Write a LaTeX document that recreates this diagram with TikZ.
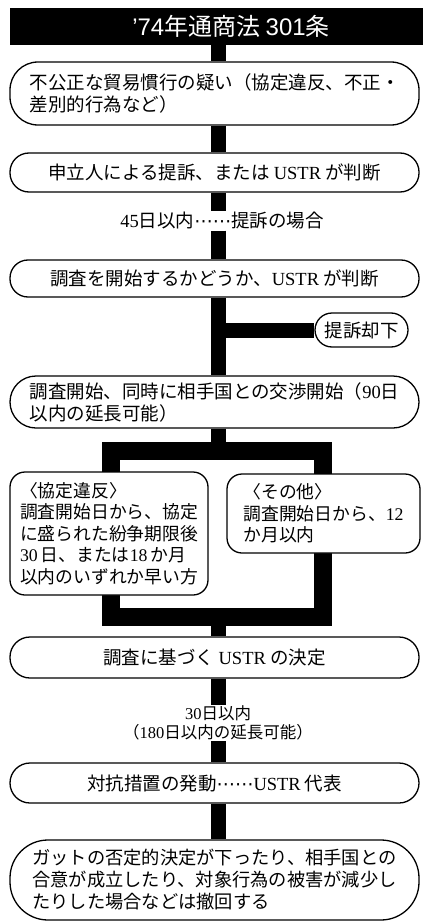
\documentclass[tikz,border=0pt]{standalone}
\usepackage{fontspec}
\setmainfont{Noto Sans CJK JP}
\newfontfamily\lat{Liberation Serif}
\newfontfamily\hel{Liberation Sans}
\newfontfamily\dv{DejaVu Sans}
\newcommand{\mydots}{{\dv ⋯⋯}}
\usetikzlibrary{backgrounds}
\begin{document}
\begin{tikzpicture}[x=1pt,y=-1pt,
  box/.style={draw=black, line width=1.3pt, fill=white, inner sep=0pt, align=left, font=\fontsize{18.5}{22}\selectfont},
  wide/.style={box, minimum width=409pt},
  small/.style={box, font=\fontsize{17.8}{21.5}\selectfont, rounded corners=15pt},
  spinebar/.style={line width=15pt, black},
  framebar/.style={line width=18pt, black},
  lab/.style={fill=white, inner sep=1pt, align=center},
]
\useasboundingbox (0,0) rectangle (423,923);
\coordinate (sx) at (218.5,0);
\coordinate (ftl) at (111,451);
\coordinate (fbr) at (322.5,616.5);

\node[fill=black, minimum width=413pt, minimum height=37pt, inner sep=0pt, text=white,
  font=\fontsize{24}{24}\selectfont] (title) at (216.5,26.5)
  {\hspace*{29pt}{\hel ’74}年通商法 {\hel 301}条};

\node[wide, minimum height=63pt, rounded corners=28pt] (b1) at (214.5,93.5)
  {不公正な貿易慣行の疑い（協定違反、不正・\\差別的行為など）};
\node[wide, minimum height=39pt, rounded corners=19pt] (b2) at (214.5,172.5)
  {申立人による提訴、または {\lat USTR} が判断};
\node[lab, font=\fontsize{18.5}{20}\selectfont] (l1) at (222,221)
  {{\lat 45}日以内\mydots 提訴の場合};
\node[wide, minimum height=37pt, rounded corners=18pt] (b3) at (214.5,278.5)
  {調査を開始するかどうか、{\lat USTR} が判断};
\node[box, minimum width=93pt, minimum height=34pt, rounded corners=17pt] (rej) at (361.5,330)
  {提訴却下};
\node[wide, minimum height=52pt, rounded corners=26pt] (b4) at (214.5,402)
  {調査開始、同時に相手国との交渉開始（{\lat 90}日\\以内の延長可能）};
\node[small, minimum width=198pt, minimum height=123pt] (lb) at (109,533.5)
  {〈協定違反〉\\調査開始日から、協定\\に盛られた紛争期限後\\{\lat 30}\,日、または{\lat 18}\,か月\\以内のいずれか早い方};
\node[small, minimum width=193pt, minimum height=79pt] (rb) at (323.5,513.5)
  {〈その他〉\\調査開始日から、{\lat 12}\\か月以内};
\node[wide, minimum height=41pt, rounded corners=20pt] (b5) at (214.5,657.5)
  {調査に基づく {\lat USTR} の決定};
\node[lab, font=\fontsize{16.5}{18.5}\selectfont] (l2) at (218,723)
  {{\lat 30}日以内\\（{\lat 180}日以内の延長可能）};
\node[wide, minimum height=40pt, rounded corners=20pt] (b6) at (214.5,783)
  {対抗措置の発動\mydots{\lat USTR} 代表};
\node[wide, minimum height=80pt, rounded corners=38pt, font=\fontsize{18.25}{22}\selectfont] (b7) at (214.5,880)
  {ガットの否定的決定が下ったり、相手国との\\合意が成立したり、対象行為の被害が減少し\\たりした場合などは撤回する};

\begin{scope}[on background layer]
  \fill[white] (0,0) rectangle (423,923);
  \draw[framebar] (ftl) rectangle (fbr);
\end{scope}
\draw[spinebar] (title.south -| sx) -- (b1.north -| sx);
\draw[spinebar] (b1.south -| sx) -- (b2.north -| sx);
\draw[spinebar] (b2.south -| sx) -- (l1.north -| sx);
\draw[spinebar] (l1.south -| sx) -- (b3.north -| sx);
\draw[spinebar] (b3.south -| sx) -- (b4.north -| sx);
\draw[spinebar] (sx |- rej.west) -- (rej.west);
\draw[spinebar] (b4.south -| sx) -- (sx |- ftl);
\draw[spinebar] (sx |- fbr) -- (b5.north -| sx);
\draw[spinebar] (b5.south -| sx) -- (l2.north -| sx);
\draw[spinebar] (l2.south -| sx) -- (b6.north -| sx);
\draw[spinebar] (b6.south -| sx) -- (b7.north -| sx);
\end{tikzpicture}
\end{document}
